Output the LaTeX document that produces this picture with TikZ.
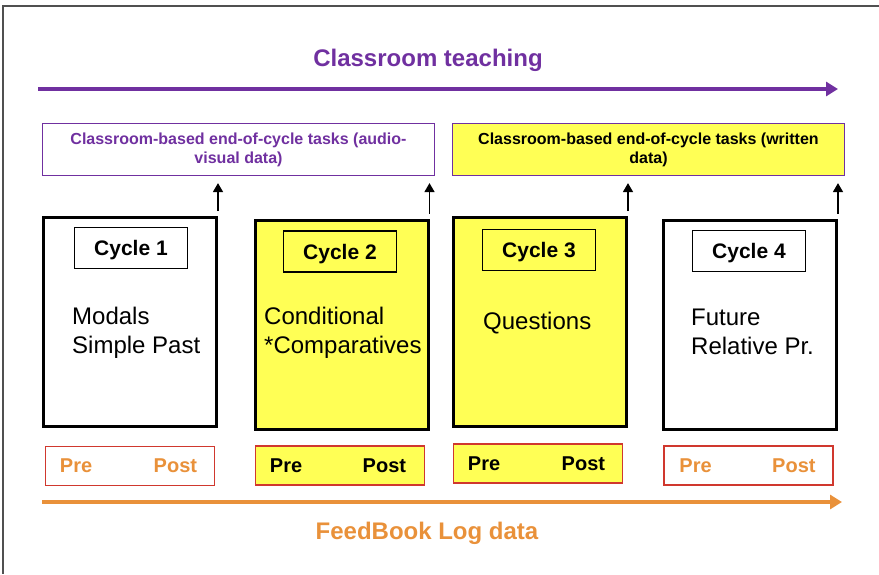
\documentclass[tikz,border=0pt]{standalone}
\usepackage{fontspec}
\setmainfont{Liberation Sans}
\usepackage{tikz}
\usetikzlibrary{positioning}
\usetikzlibrary{arrows.meta}
\usetikzlibrary{calc}

\definecolor{tpurple}{RGB}{112,48,160}
\definecolor{tyellow}{RGB}{255,255,85}
\definecolor{tred}{RGB}{208,56,46}
\definecolor{torange}{RGB}{233,145,58}
\definecolor{framegray}{RGB}{80,80,80}

\tikzset{
  cyclebox/.style={draw=black,line width=3pt,minimum width=173pt,minimum height=209pt,inner sep=0pt},
  cyclelabel/.style={draw=black,line width=1.2pt,minimum width=113pt,minimum height=41pt,inner sep=0pt,text depth=0pt,font=\fontsize{21}{25}\selectfont\bfseries},
  topic/.style={anchor=west,inner sep=0pt,align=left,font=\fontsize{24}{29}\selectfont},
  taskbox/.style={draw=tpurple,line width=1.2pt,minimum width=392pt,minimum height=52pt,inner sep=0pt,align=center,font=\fontsize{16}{19}\selectfont\bfseries},
  prepost/.style={draw=tred,line width=1.5pt,minimum width=169pt,minimum height=39pt,inner sep=0pt},
  pptext/.style={inner sep=0pt,text depth=0pt,font=\fontsize{20}{24}\selectfont\bfseries},
  uparrow/.style={line width=1.5pt,-{Triangle[length=9pt,width=10pt]}},
  timeline/.style={line width=4pt,-{Triangle[length=12pt,width=14pt]}},
}

\begin{document}
\begin{tikzpicture}[x=1pt,y=1pt,yscale=-1]
\useasboundingbox (0,0) rectangle (879,574);

%frame of the screenshot
\draw [framegray,line width=1.5pt] (879,6) -- (3,6) -- (3,574);

%Classroom teaching line
\node (teach) at (428,60) [inner sep=0pt,text=tpurple,font=\fontsize{24}{28}\selectfont\bfseries] {Classroom teaching};
\coordinate (teachA) at (38,89);
\coordinate (teachB) at (838,89);
\draw [timeline,tpurple] (teachA) -- (teachB);

%task boxes
\node (taskA) at (238.5,149.5) [taskbox,fill=white,text=tpurple] {Classroom-based end-of-cycle tasks (audio-\\visual data)};
\node (taskB) at (648.5,149.5) [taskbox,fill=tyellow,text=black] {Classroom-based end-of-cycle tasks (written\\data)};

%cycles
\node (cyc1) at (130,322) [cyclebox,fill=white] {};
\node (cyc2) at (341.5,324.5) [cyclebox,fill=tyellow] {};
\node (cyc3) at (540,322) [cyclebox,fill=tyellow] {};
\node (cyc4) at (750,324.5) [cyclebox,fill=white] {};

\node (lab1) at (131,248) [cyclelabel] {Cycle 1};
\node (lab2) at (340,251.5) [cyclelabel] {Cycle 2};
\node (lab3) at (539,250) [cyclelabel] {Cycle 3};
\node (lab4) at (749,251) [cyclelabel] {Cycle 4};

% Text Node
\node (top1) at (72,332.5) [topic] {Modals\\Simple Past};
% Text Node
\node (top2) at (264,332.5) [topic] {Conditional\\*Comparatives};
% Text Node
\node (top3) at (483,323) [topic] {Questions};
% Text Node
\node (top4) at (691,332) [topic] {Future\\Relative Pr.};

%arrows up to the tasks
\draw [uparrow,shorten <=5pt,shorten >=7pt] (cyc1.north east) -- (cyc1.north east |- taskA.south);
\draw [uparrow,shorten <=5pt,shorten >=7pt] (cyc2.north east) -- (cyc2.north east |- taskA.south);
\draw [uparrow,shorten <=5pt,shorten >=7pt] (cyc3.north east) -- (cyc3.north east |- taskB.south);
\draw [uparrow,shorten <=5pt,shorten >=7pt] (cyc4.north east) -- (cyc4.north east |- taskB.south);

%pre and post
\node (pp1) at (130,466) [prepost,fill=white] {};
\node (pp2) at (340,465.5) [prepost,fill=tyellow] {};
\node (pp3) at (538,463.5) [prepost,fill=tyellow] {};
\node (pp4) at (748.5,465.5) [prepost,fill=white] {};

\node (pre1) [pptext,text=torange,anchor=west] at ($(pp1.west)+(15,0)$) {Pre};
\node (post1) [pptext,text=torange,anchor=east] at ($(pp1.east)+(-18,0)$) {Post};
\node (pre2) [pptext,anchor=west] at ($(pp2.west)+(15,0)$) {Pre};
\node (post2) [pptext,anchor=east] at ($(pp2.east)+(-19,0)$) {Post};
\node (pre3) [pptext,anchor=west] at ($(pp3.west)+(15,0)$) {Pre};
\node (post3) [pptext,anchor=east] at ($(pp3.east)+(-18,0)$) {Post};
\node (pre4) [pptext,text=torange,anchor=west] at ($(pp4.west)+(16,0)$) {Pre};
\node (post4) [pptext,text=torange,anchor=east] at ($(pp4.east)+(-18,0)$) {Post};

%FeedBook line
\coordinate (logA) at (42,502);
\coordinate (logB) at (842,502);
\draw [timeline,torange] (logA) -- (logB);
\node (log) at (427,533) [inner sep=0pt,text=torange,font=\fontsize{24}{28}\selectfont\bfseries] {FeedBook Log data};

\end{tikzpicture}
\end{document}
